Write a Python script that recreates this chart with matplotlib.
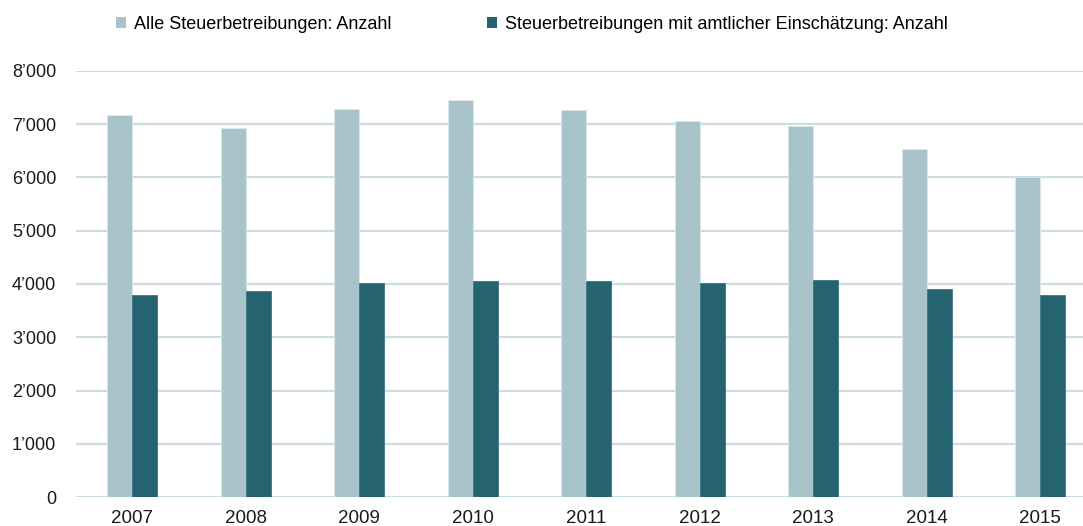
import matplotlib
matplotlib.use("Agg")
import matplotlib.pyplot as plt
import numpy as np
from matplotlib.ticker import FuncFormatter
from matplotlib.patches import Patch

plt.rcParams['font.family'] = ['Liberation Sans', 'DejaVu Sans']

years = ["2007", "2008", "2009", "2010", "2011", "2012", "2013", "2014", "2015"]
alle = [7170, 6930, 7280, 7455, 7260, 7060, 6970, 6530, 6010]
amtlich = [3795, 3870, 4020, 4055, 4058, 4020, 4083, 3900, 3790]
labels = ["Alle Steuerbetreibungen: Anzahl",
          "Steuerbetreibungen mit amtlicher Einschätzung: Anzahl"]
yticks = [0, 1000, 2000, 3000, 4000, 5000, 6000, 7000, 8000]

c_light = "#a8c4ca"
c_dark = "#266370"
c_grid = "#cbdce2"

fig = plt.figure(figsize=(10.83, 5.26), dpi=100)
ax = fig.add_axes([0.0699, 0.0546, 0.9301, 0.811])

x = np.arange(len(years))
w = 0.22
ax.bar(x - w / 2, alle, width=w, color=c_light, edgecolor="#dde8eb", linewidth=0.6, zorder=3)
ax.bar(x + w / 2, amtlich, width=w, color=c_dark, edgecolor="#3d7480", linewidth=0.6, zorder=3)

ax.set_ylim(0, 8000)
ax.set_xlim(-0.5, 8.376)
ax.set_yticks(yticks)
ax.yaxis.set_major_formatter(FuncFormatter(lambda v, p: f"{int(v):,}".replace(",", "\u2019")))
ax.set_xticks(x)
ax.set_xticklabels(years)
ax.grid(axis="y", color=c_grid, linewidth=1.6, zorder=0)
ax.set_axisbelow(True)
for s in ax.spines.values():
    s.set_visible(False)
ax.tick_params(axis="both", length=0, labelsize=13, colors="#1a1a1a")
ax.tick_params(axis="x", labelsize=13.5, pad=9)
ax.tick_params(axis="y", pad=14)

handles = [Patch(facecolor=c_light, edgecolor="none"), Patch(facecolor=c_dark, edgecolor="none")]
fig.legend(handles, labels, loc="center", bbox_to_anchor=(0.491, 0.954), ncol=2, frameon=False,
           fontsize=13, handlelength=0.55, handleheight=0.55, handletextpad=0.44, columnspacing=5.3,
           borderpad=0, borderaxespad=0)

fig.savefig("out.png", dpi=100)
